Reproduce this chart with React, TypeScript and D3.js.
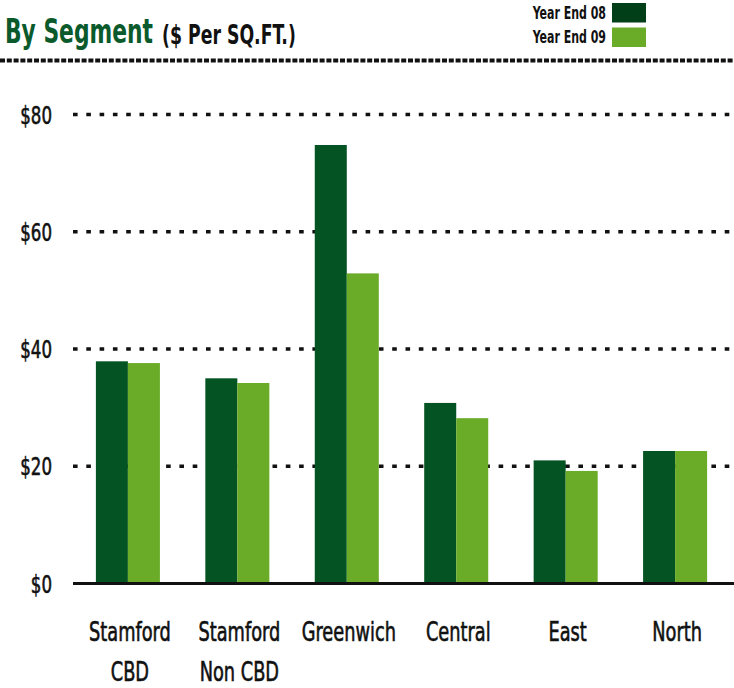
import React from "react";
import * as d3 from "d3";

const categories: string[][] = [
  ["Stamford", "CBD"],
  ["Stamford", "Non CBD"],
  ["Greenwich"],
  ["Central"],
  ["East"],
  ["North"],
];
const seriesNames = ["Year End 08", "Year End 09"];
const yearEnd08 = [37.9, 35.0, 74.8, 30.8, 21.0, 22.6];
const yearEnd09 = [37.6, 34.2, 52.9, 28.2, 19.2, 22.6];
const yTicks = [0, 20, 40, 60, 80];
const yTickLabels = ["$0", "$20", "$40", "$60", "$80"];

const W = 734;
const H = 688;
const FONT = "'DejaVu Sans Condensed', 'DejaVu Sans', sans-serif";
const barColors = ["#045322", "#6aab28"];
const legendColors = ["#013f18", "#6aab28"];

function CText(props: {
  x: number;
  y: number;
  sx: number;
  size: number;
  anchor?: string;
  weight?: string;
  fill?: string;
  thick?: number;
  children: React.ReactNode;
}) {
  const { x, y, sx, size, anchor = "start", weight = "normal", fill = "#111", thick = 0, children } = props;
  return (
    <text
      transform={`translate(${x},${y}) scale(${sx},1)`}
      fontFamily={FONT}
      fontSize={size}
      fontWeight={weight}
      textAnchor={anchor}
      fill={fill}
      stroke={thick ? fill : "none"}
      strokeWidth={thick}
    >
      {children}
    </text>
  );
}

export default function App() {
  const ids = categories.map((c) => c.join(" "));
  const x = d3.scaleBand<string>().domain(ids).range([74, 729]).paddingInner(0.415).paddingOuter(0.2);
  const inner = d3.scaleBand<string>().domain(seriesNames).range([0, x.bandwidth()]);
  const y = d3.scaleLinear().domain([0, 80]).range([583.5, 114.5]);
  const series = [yearEnd08, yearEnd09];

  return (
    <div>
      <style>{`body{margin:0;background:#fff}`}</style>
      <svg width={W} height={H} style={{ display: "block" }}>
        <rect width={W} height={H} fill="#fff" />
        {/* title */}
        <CText x={5} y={43} sx={0.735} size={33} weight="bold" fill="#0b5a2c">
          By Segment
        </CText>
        <CText x={162} y={44} sx={0.74} size={26} weight="bold" fill="#111">
          ($ Per SQ.FT.)
        </CText>
        {/* legend */}
        {seriesNames.map((s, i) => (
          <g key={s}>
            <CText x={606} y={19 + i * 24} sx={0.72} size={17} weight="bold" anchor="end">
              {s}
            </CText>
            <rect x={612} y={3 + i * 24.5} width={34} height={19.5} fill={legendColors[i]} />
          </g>
        ))}
        {/* top rule */}
        <line x1={0} x2={W} y1={60.5} y2={60.5} stroke="#111" strokeWidth={4} strokeDasharray="5 1.8" />
        {/* gridlines */}
        {yTicks
          .filter((t) => t > 0)
          .map((t) => (
            <line
              key={t}
              x1={73}
              x2={W}
              y1={y(t)}
              y2={y(t)}
              stroke="#111"
              strokeWidth={3.6}
              strokeDasharray="4.6 8.7"
            />
          ))}
        {/* y labels */}
        {yTicks.map((t, i) => (
          <CText key={t} x={52} y={y(t) + 9} sx={0.74} size={25} anchor="end" thick={0.6}>
            {yTickLabels[i]}
          </CText>
        ))}
        {/* bars */}
        {ids.map((id, ci) => (
          <g key={id} transform={`translate(${x(id)},0)`}>
            {seriesNames.map((s, si) => (
              <rect
                key={s}
                x={inner(s)}
                y={y(series[si][ci])}
                width={inner.bandwidth()}
                height={y(0) - y(series[si][ci])}
                fill={barColors[si]}
              />
            ))}
          </g>
        ))}
        {/* baseline */}
        <line x1={73} x2={W} y1={y(0)} y2={y(0)} stroke="#111" strokeWidth={3} />
        {/* category labels */}
        {categories.map((lines, ci) => (
          <g key={ci}>
            {lines.map((ln, li) => (
              <CText
                key={li}
                x={(x(ids[ci]) as number) + x.bandwidth() / 2 + 2}
                y={641 + li * 40}
                sx={0.76}
                size={26}
                anchor="middle"
                thick={0.6}
              >
                {ln}
              </CText>
            ))}
          </g>
        ))}
      </svg>
    </div>
  );
}
